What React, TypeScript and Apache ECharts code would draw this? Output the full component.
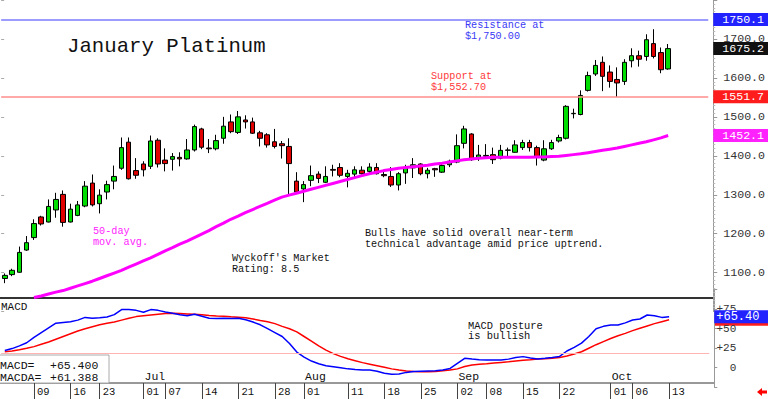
import React, { useEffect, useRef } from 'react';
import * as echarts from 'echarts';

const dates = [
  '06-03','06-04','06-05','06-06','06-09','06-10','06-11','06-12','06-13','06-16','06-17','06-18','06-20','06-23','06-24','06-25','06-26','06-27','06-30',
  '07-01','07-02','07-03','07-07','07-08','07-09','07-10','07-11','07-14','07-15','07-16','07-17','07-18','07-21','07-22','07-23','07-24','07-25','07-28','07-29','07-30','07-31',
  '08-01','08-04','08-05','08-06','08-07','08-08','08-11','08-12','08-13','08-14','08-15','08-18','08-19','08-20','08-21','08-22','08-25','08-26','08-27','08-28','08-29',
  '09-02','09-03','09-04','09-05','09-08','09-09','09-10','09-11','09-12','09-15','09-16','09-17','09-18','09-19','09-22','09-23','09-24','09-25','09-26','09-29','09-30',
  '10-01','10-02','10-03','10-06','10-07','10-08','10-09','10-10','10-13'
];
const futureDates = ['10-14', '10-15', '10-16', '10-17', '10-20'];

const openP = [
  1085,1095,1101,1158,1190,1243,1230,1261,1301,1230,
  1247,1271,1330,1277,1307,1335,1368,1435,1362,1379,
  1373,1440,1389,1391,1396,1392,1415,1469,1420,1418,
  1445,1487,1460,1492,1487,1459,1454,1436,1431,1424,
  1335,1315,1337,1353,1332,1365,1370,1347,1353,1363,
  1360,1370,1352,1347,1325,1356,1369,1379,1354,1367,
  1358,1377,1384,1432,1456,1394,1399,1403,1394,1414,
  1409,1421,1434,1421,1389,1418,1438,1445,1508,1506,
  1568,1610,1640,1615,1596,1591,1644,1657,1655,1688,
  1665,1623
];
const closeP = [
  1093,1106,1152,1177,1226,1225,1270,1288,1229,1263,
  1274,1322,1274,1299,1326,1347,1421,1341,1350,1364,
  1438,1379,1380,1398,1392,1415,1475,1422,1418,1439,
  1476,1462,1500,1487,1458,1445,1428,1424,1426,1380,
  1307,1326,1349,1342,1347,1363,1350,1355,1364,1354,
  1371,1354,1349,1325,1354,1369,1377,1354,1363,1364,
  1375,1386,1426,1469,1390,1402,1401,1390,1414,1415,
  1428,1434,1421,1398,1418,1434,1447,1527,1509,1555,
  1606,1632,1604,1591,1587,1640,1657,1648,1698,1655,
  1621,1675.2
];
const lowP = [
  1073,1091,1100,1156,1184,1221,1229,1241,1218,1229,
  1245,1268,1270,1252,1288,1314,1364,1339,1341,1347,
  1366,1370,1360,1362,1373,1390,1411,1417,1407,1414,
  1431,1458,1456,1470,1456,1424,1421,1419,1393,1298,
  1305,1281,1322,1330,1330,1347,1345,1319,1343,1352,
  1354,1352,1345,1320,1311,1328,1343,1350,1342,1346,
  1356,1371,1381,1419,1387,1387,1392,1379,1391,1398,
  1408,1415,1411,1375,1386,1415,1434,1442,1496,1504,
  1565,1605,1566,1575,1551,1582,1627,1629,1644,1650,
  1612,1621
];
const highP = [
  1098,1110,1167,1194,1237,1246,1288,1305,1311,1277,
  1284,1335,1352,1314,1336,1375,1447,1447,1394,1386,
  1452,1445,1419,1407,1409,1443,1480,1472,1443,1454,
  1500,1506,1515,1504,1498,1464,1458,1469,1438,1445,
  1358,1335,1375,1360,1373,1377,1381,1364,1373,1373,
  1381,1381,1364,1371,1358,1377,1394,1381,1369,1369,
  1381,1390,1455,1477,1458,1428,1430,1421,1428,1421,
  1440,1441,1441,1426,1440,1441,1454,1530,1521,1568,
  1616,1646,1655,1632,1627,1648,1676,1670,1712,1725,
  1678,1687
];
const ma50 = [
  null,null,null,null,1036,1040,1045,1050,1054,1060,
  1066,1072,1078,1085,1092,1099,1106,1114,1122,1130,
  1138,1147,1156,1164,1173,1181,1190,1199,1208,1218,
  1227,1237,1245,1254,1262,1270,1278,1286,1294,1299,
  1304,1309,1314,1319,1324,1329,1334,1339,1344,1349,
  1354,1358,1362,1365,1368,1370,1372,1374,1376,1379,
  1381,1384,1387,1390,1392,1394,1395,1396,1396,1396,
  1396,1396,1396,1397,1397,1398,1399,1401,1403,1405,
  1408,1411,1414,1417,1420,1424,1428,1432,1436,1441,
  1446,1452.1
];
const macd = [
  22,24.5,28,32,39,45,51,57,58,59,
  61,64.5,63.5,64,65,68,74.5,74.5,73.5,71,
  74.5,73.5,71.5,69.7,68,66.7,68.5,66,63.5,63,
  63.5,63,63.5,61.5,58.5,55,50,45,40,31,
  20,13.5,8.5,5,2.5,1.3,0,-1.5,-2.2,-2.8,
  -3,-4.5,-7,-8.3,-8,-6,-5,-4.5,-4.2,-4,
  -3,-1,5.5,12,11,10.2,9.9,9.9,9.9,11,
  13,14.2,12.5,11.2,12,13,14.5,21.4,26,31.5,
  40,50,53,54.7,54.7,57.5,61.2,62.4,67.6,66.5,
  64.5,65.4
];
const macda = [
  20.5,21.5,23,24.9,27,30,33,36.5,40,43.5,
  47,50,52.5,55,57,58.5,61,63.5,65.5,66.5,
  67.5,68.5,69.5,69.7,69.5,69,68.5,67.8,67,66.3,
  66,65.3,64.8,64,62.5,60.5,59,56.5,53,50,
  46,40,34,28,22.5,18,14.5,11.5,9,6.5,
  4.5,2.5,0.5,-1.5,-3,-4.2,-5,-5.1,-5.1,-5,
  -4,-3,-1.5,1.5,3.5,4.5,5,6,6.8,7.5,
  8.5,9.5,10.2,11,11.5,12.2,13,15,17.5,20.5,
  25,29.5,33.5,37.5,41,44,47.5,50.5,53.5,56.5,
  59,61.388
];

const resistance = 1750.1;
const support = 1551.7;
const lastPrice = 1675.2;
const lastMA = 1452.1;
const lastMacd = 65.4;
const lastMacda = 61.388;
const macdRef = 19;

const dayLabelDates = ['06-09','06-16','06-23','07-01','07-07','07-14','07-21','07-28','08-01','08-11','08-18','08-25','09-02','09-08','09-15','09-22','10-01','10-06','10-13'];
const monthLabels: Record<string, string> = { '07-01': 'Jul', '08-01': 'Aug', '09-02': 'Sep', '10-01': 'Oct' };

const FF = '"Liberation Mono", "DejaVu Sans Mono", monospace';
const HIDDEN_LINE = { color: 'rgba(0,0,0,0)', width: 0 };

export default function App() {
  const ref = useRef<HTMLDivElement>(null);
  useEffect(() => {
    const chart = echarts.init(ref.current!, null, { renderer: 'svg' });
    const cats = dates.concat(futureDates);
    const daySet = new Set(dayLabelDates);
    const candles = dates.map((_, i) => [openP[i], closeP[i], lowP[i], highP[i]]);
    const gl = 1.15, gw = 708.1;

    const tagLabel = (bg: string, fmt: string, pad: number[], size: number) => ({
      show: true,
      position: 'end',
      distance: 5,
      formatter: fmt,
      color: '#fff',
      backgroundColor: bg,
      fontFamily: FF,
      fontSize: size,
      lineHeight: 11,
      padding: pad,
      opacity: 1,
    });

    const option: any = {
      animation: false,
      backgroundColor: '#fff',
      grid: [
        { left: gl, width: gw, top: -2.9, height: 314.5 },
        { left: gl, width: gw, top: 289.7, height: 97.5 },
        { left: gl, width: gw, top: 382, height: 1 },
      ],
      xAxis: [
        { gridIndex: 0, type: 'category', data: cats, show: false },
        { gridIndex: 1, type: 'category', data: cats, show: false },
        {
          gridIndex: 2, type: 'category', data: cats, position: 'bottom',
          axisLine: { show: false },
          axisTick: { show: true, alignWithLabel: true, length: 16, interval: (_i: number, v: string) => daySet.has(v), lineStyle: { color: '#444', width: 1 } },
          axisLabel: { interval: (_i: number, v: string) => daySet.has(v), formatter: (v: string) => v.slice(3), align: 'left', margin: 3, padding: [0, 0, 0, 3], fontSize: 10.5, fontFamily: FF, color: '#111' },
        },
        {
          gridIndex: 2, type: 'category', data: cats, position: 'top',
          axisLine: { show: false }, axisTick: { show: false },
          axisLabel: { interval: (_i: number, v: string) => v in monthLabels, formatter: (v: string) => monthLabels[v] || '', align: 'left', margin: 0, padding: [0, 0, 0, 1], fontSize: 11.5, fontFamily: FF, color: '#111' },
        },
      ],
      yAxis: [
        {
          gridIndex: 0, type: 'value', position: 'right', offset: 5, min: 1000, max: 1800, interval: 100,
          splitLine: { show: false },
          axisLine: { show: true, lineStyle: { color: '#999' } },
          axisTick: { show: true, length: 4, lineStyle: { color: '#999' } },
          minorTick: { show: true, splitNumber: 10, length: 2, lineStyle: { color: '#bbb' } },
          axisLabel: { formatter: (v: number) => (v <= 1000 || v >= 1800 ? '' : v.toFixed(1)), margin: 10, fontSize: 11.6, fontFamily: FF, color: '#333' },
        },
        {
          gridIndex: 0, type: 'value', position: 'left', min: 1000, max: 1800, interval: 100,
          splitLine: { show: false }, axisLine: { show: false },
          axisTick: { show: true, inside: true, length: 3, lineStyle: { color: '#aaa' } },
          axisLabel: { show: false },
        },
        {
          gridIndex: 1, type: 'value', position: 'right', offset: 5, min: -25, max: 100, interval: 25,
          splitLine: { show: false },
          axisLine: { show: true, lineStyle: { color: '#999' } },
          axisTick: { show: true, length: 3, lineStyle: { color: '#999' } },
          axisLabel: { formatter: (v: number) => (v >= 100 || v <= -25 ? '' : v > 0 ? '+' + v : String(v)), align: 'right', margin: 22, fontSize: 11, fontFamily: FF, color: '#333' },
        },
        { gridIndex: 2, type: 'value', show: false },
      ],
      series: [
        {
          type: 'candlestick', xAxisIndex: 0, yAxisIndex: 0, data: candles, barWidth: 5,
          itemStyle: { color: '#00dd00', color0: '#e00000', borderColor: '#000', borderColor0: '#000', borderWidth: 1 },
          markLine: {
            silent: true, symbol: 'none', animation: false,
            data: [
              { yAxis: resistance, lineStyle: { color: '#7b7bff', width: 1.5, type: 'solid' }, label: tagLabel('#2222ff', resistance.toFixed(1), [1, 6, 1, 9], 11.6) },
              { yAxis: support, lineStyle: { color: '#ff8c8c', width: 1.5, type: 'solid' }, label: tagLabel('#ff1c1c', support.toFixed(1), [1, 6, 1, 9], 11.6) },
              { yAxis: lastPrice, lineStyle: HIDDEN_LINE, label: tagLabel('#111111', lastPrice.toFixed(1), [1, 6, 1, 9], 11.6) },
            ],
          },
        },
        {
          type: 'line', xAxisIndex: 0, yAxisIndex: 0, data: ma50, showSymbol: false, symbol: 'none',
          lineStyle: { color: '#ff00ff', width: 3 },
          markLine: {
            silent: true, symbol: 'none', animation: false,
            data: [{ yAxis: lastMA, lineStyle: HIDDEN_LINE, label: tagLabel('#ff22ff', lastMA.toFixed(1), [1, 6, 1, 9], 11.6) }],
          },
        },
        {
          type: 'line', xAxisIndex: 1, yAxisIndex: 2, data: macda, showSymbol: false, symbol: 'none',
          lineStyle: { color: '#ff0000', width: 1.5 },
          markLine: {
            silent: true, symbol: 'none', animation: false,
            data: [{ yAxis: macdRef, lineStyle: { color: '#ffb4b4', width: 1, type: 'solid' }, label: { show: false } }],
          },
        },
        {
          type: 'line', xAxisIndex: 1, yAxisIndex: 2, data: macd, showSymbol: false, symbol: 'none',
          lineStyle: { color: '#0000ff', width: 1.5 },
          markLine: {
            silent: true, symbol: 'none', animation: false,
            data: [{ yAxis: lastMacd, lineStyle: HIDDEN_LINE, label: tagLabel('#2222ff', '+' + lastMacd.toFixed(2), [1, 10, 1, 2], 12) }],
          },
        },
      ],
    };
    chart.setOption(option);

    const yMacda = chart.convertToPixel({ yAxisIndex: 2 } as any, lastMacda) as number;
    const txt = (text: string, x: number, y: number, size: number, fill: string, va = 'top', lh = 11) => ({
      type: 'text', x, y, silent: true,
      style: { text, fontSize: size, fontFamily: FF, fill, verticalAlign: va, lineHeight: lh },
    });
    chart.setOption({
      graphic: {
        elements: [
          { type: 'rect', silent: true, z: 0, shape: { x: 714, y: yMacda - 4, width: 56, height: 10 }, style: { fill: '#ff1c1c' } },
          { type: 'line', silent: true, shape: { x1: 0, y1: 298, x2: 714, y2: 298 }, style: { stroke: '#333', lineWidth: 2 } },
          { type: 'line', silent: true, shape: { x1: 0, y1: 383, x2: 714, y2: 383 }, style: { stroke: '#333', lineWidth: 1 } },
          { type: 'rect', silent: true, shape: { x: -1, y: 355, width: 110, height: 28 }, style: { fill: '#fff', stroke: '#aaa', lineWidth: 1 } },
          txt('January Platinum', 67, 46.5, 20.7, '#111', 'middle'),
          txt('Resistance at\n$1,750.00', 465, 19.5, 10.2, '#3a3af5'),
          txt('Support at\n$1,552.70', 431, 70.5, 10.2, '#ff3a3a'),
          txt('50-day\nmov. avg.', 93, 225.5, 10.2, '#ff22ff'),
          txt("Wyckoff's Market\nRating: 8.5", 232, 253, 10.2, '#111'),
          txt('Bulls have solid overall near-term\ntechnical advantage amid price uptrend.', 365, 227.5, 10.2, '#111'),
          txt('MACD posture\nis bullish', 468, 320.5, 10.4, '#111', 'top', 10.5),
          txt('MACD', 1, 307, 11, '#111', 'middle'),
          txt('MACD=', 0, 365, 11.5, '#111', 'middle'),
          txt('+65.400', 50, 365, 11.5, '#111', 'middle'),
          txt('MACDA=', 0, 377, 11.5, '#111', 'middle'),
          txt('+61.388', 50, 377, 11.5, '#111', 'middle'),
          { type: 'polygon', silent: true, shape: { points: [[757, 392], [762, 388], [762, 390.5], [767, 390.5], [767, 393.5], [762, 393.5], [762, 396]] }, style: { fill: '#ff0000' } },
        ],
      },
    });
    return () => chart.dispose();
  }, []);
  return <div ref={ref} style={{ position: 'fixed', left: 0, top: 0, width: 768, height: 399 }} />;
}
